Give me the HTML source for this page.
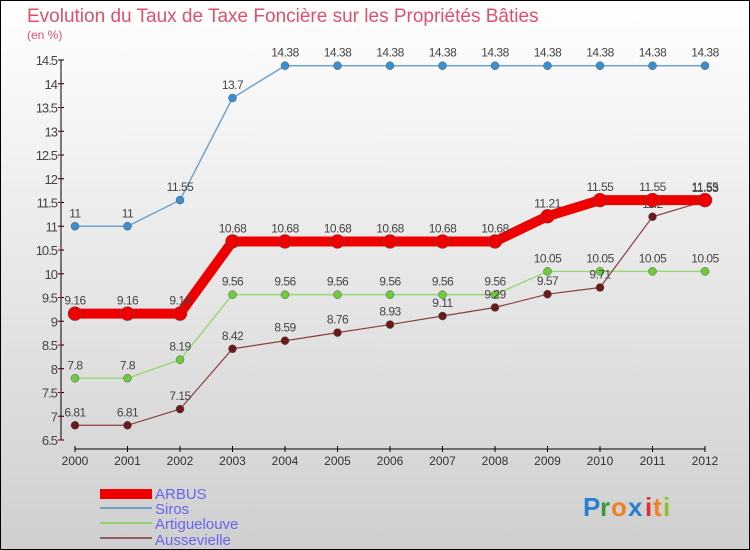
<!DOCTYPE html>
<html><head><meta charset="utf-8"><style>
body{margin:0}
#c{width:750px;height:550px;position:relative;overflow:hidden;font-family:"Liberation Sans",sans-serif}
</style></head><body>
<div id="c">
<svg width="750" height="550" xmlns="http://www.w3.org/2000/svg" id="svg">
<defs><linearGradient id="bg" x1="0" y1="0" x2="0" y2="1"><stop offset="0" stop-color="#ffffff"/><stop offset="1" stop-color="#cfcfcf"/></linearGradient></defs>
<rect x="0.5" y="0.5" width="749" height="549" fill="url(#bg)" stroke="#000"/>
<text x="27" y="22" font-size="19" fill="#e0506a">Evolution du Taux de Taxe Foncière sur les Propriétés Bâties</text>
<text x="27" y="39" font-size="12" fill="#e0506a">(en %)</text>
<g id="axes"></g><g id="series"></g>
<g>
<rect x="100" y="489" width="52" height="10" fill="#ee0000"/>
<text x="155" y="499" font-size="15" fill="#6666ee">ARBUS</text>
<line x1="100" y1="508" x2="152" y2="508" stroke="#6f9ec8" stroke-width="2"/>
<text x="155" y="514" font-size="15" fill="#6666ee">Siros</text>
<line x1="100" y1="523" x2="152" y2="523" stroke="#90d070" stroke-width="2"/>
<text x="155" y="529" font-size="15" fill="#6666ee">Artiguelouve</text>
<line x1="100" y1="538" x2="152" y2="538" stroke="#906060" stroke-width="2"/>
<text x="155" y="545" font-size="15" fill="#6666ee">Aussevielle</text>
</g>
<g font-size="26" font-weight="bold">
<text x="583" y="516" fill="#2a7fd0">P</text><text x="600" y="516" fill="#3a9a3a">r</text><text x="611" y="516" fill="#f08020">o</text><text x="628" y="516" fill="#2a7fd0">x</text><text x="645" y="516" fill="#e03030">i</text><text x="653" y="516" fill="#f08020">t</text><text x="663" y="516" fill="#90c030">i</text>
</g>
</svg>
</div>
<script>
const years=[2000,2001,2002,2003,2004,2005,2006,2007,2008,2009,2010,2011,2012];
const arbus=[9.16,9.16,9.16,10.68,10.68,10.68,10.68,10.68,10.68,11.21,11.55,11.55,11.55];
const siros=[11,11,11.55,13.7,14.38,14.38,14.38,14.38,14.38,14.38,14.38,14.38,14.38];
const artiguelouve=[7.8,7.8,8.19,9.56,9.56,9.56,9.56,9.56,9.56,10.05,10.05,10.05,10.05];
const aussevielle=[6.81,6.81,7.15,8.42,8.59,8.76,8.93,9.11,9.29,9.57,9.71,11.2,11.53];
const yTicks=[6.5,7,7.5,8,8.5,9,9.5,10,10.5,11,11.5,12,12.5,13,13.5,14,14.5];
const X=y=>75+(y-2000)*52.5, Y=v=>60+(14.5-v)*47.5;
const NS="http://www.w3.org/2000/svg";
function mk(t,a,p){const e=document.createElementNS(NS,t);for(const k in a)e.setAttribute(k,a[k]);p.appendChild(e);return e;}
const ax=document.getElementById('axes');
const ya=mk('line',{x1:61,y1:Y(14.5),x2:61,y2:Y(6.5),stroke:'#000'},ax);


const xa=mk('line',{x1:75,y1:449,x2:705,y2:449,stroke:'#000'},ax);


yTicks.forEach((v,i)=>{mk('line',{x1:58,y1:Y(v),x2:64,y2:Y(v),stroke:'#000'},ax);
 if(i>0) mk('line',{x1:59,y1:Y(v)+23.75,x2:61,y2:Y(v)+23.75,stroke:'#e00'},ax);
 const t=mk('text',{x:57,y:Y(v)+5,'text-anchor':'end','font-size':13,fill:'#444','letter-spacing':'-1'},ax);t.textContent=v;
 
 });
years.forEach(y=>{mk('line',{x1:X(y),y1:446,x2:X(y),y2:452,stroke:'#000'},ax);
 const t=mk('text',{x:X(y),y:465,'text-anchor':'middle','font-size':12,fill:'#333'},ax);t.textContent=y;
 
 });
const sg=document.getElementById('series');
function draw(name,vals,col,dot,w,r){
 const g=mk('g',{},sg);
 
 
 mk('polyline',{points:vals.map((v,i)=>X(years[i])+','+Y(v)).join(' '),fill:'none',stroke:col,'stroke-width':w},g);
 vals.forEach((v,i)=>{const c=mk('circle',{cx:X(years[i]),cy:Y(v),r:r,fill:dot,stroke:'#555','stroke-width':0.5},g);
  
  
  const t=mk('text',{x:X(years[i]),y:Y(v)-9,'text-anchor':'middle','font-size':12,fill:'#444','letter-spacing':'-0.5'},g);t.textContent=v;});
}
draw('siros',siros,'#6fa3d0','#3b8fd0',1.5,4);
draw('artiguelouve',artiguelouve,'#9ad878','#6dcc3a',1.5,4);
draw('aussevielle',aussevielle,'#8a4040','#6a1a1a',1.2,4);
draw('arbus',arbus,'#ee0000','#ee0000',10,7);
</script>
</body></html>
